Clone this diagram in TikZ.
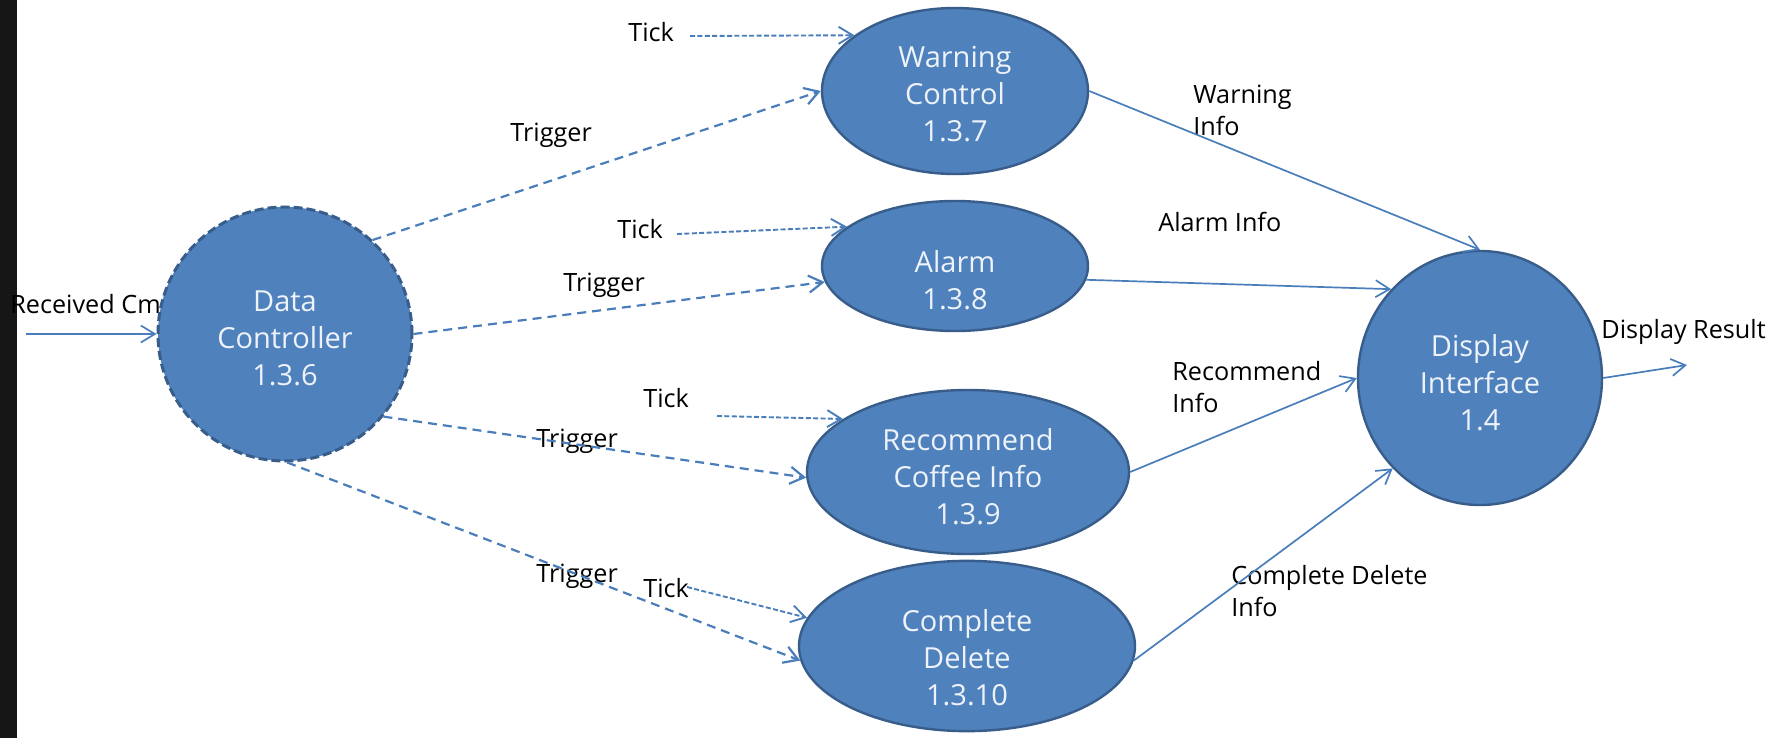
\documentclass[tikz,border=0pt]{standalone}
\usepackage{fontspec}
\setmainfont{Open Sans}
\usetikzlibrary{shapes.geometric,arrows.meta}
\definecolor{procblue}{HTML}{4F81BD}
\definecolor{procedge}{HTML}{385D8A}
\definecolor{flowblue}{HTML}{4A7EBB}
\definecolor{proctext}{HTML}{EEF3FA}
\definecolor{stripdark}{HTML}{161616}
\newcommand{\padtop}[1]{\rule{0pt}{\dimexpr 11pt+#1\relax}}
\begin{document}
\begin{tikzpicture}[x=0.5pt, y=-0.5pt,
    proc/.style={draw=procedge, line width=1.2pt, fill=procblue, text=proctext, align=center, inner sep=0pt, font=\fontsize{14.5}{18.5}\selectfont},
    flow/.style={draw=flowblue, line width=0.85pt, -{Straight Barb[length=7pt,width=8.5pt]}},
    trigflow/.style={flow, line width=1.1pt, dash pattern=on 4.5pt off 3pt},
    tickflow/.style={flow, line width=0.95pt, dash pattern=on 2.5pt off 1.2pt},
    lbl/.style={inner sep=0pt, align=left, font=\fontsize{12.6}{16}\selectfont}]
        % Page
        \useasboundingbox (0,0) rectangle (1774,738);
        \fill[white] (0,0) rectangle (1774,738);
        \fill[stripdark] (0,0) rectangle (17,738);

        % Flow labels
        \node[lbl, anchor=base west] (rcvlbl) at (10,313) {Received Cmd};
        \node[lbl, anchor=base west] (tick1) at (628,42) {Tick};
        \node[lbl, anchor=base west] (trig1) at (510,142) {Trigger};
        \node[lbl, anchor=base west] (tick2) at (617,239) {Tick};
        \node[lbl, anchor=base west] (trig2) at (563,292) {Trigger};
        \node[lbl, anchor=base west] (tick3) at (643,407) {Tick};
        \node[lbl, anchor=base west] (trig3) at (536,447) {Trigger};
        \node[lbl, anchor=base west] (trig4) at (536,582) {Trigger};
        \node[lbl, anchor=base west] (tick4) at (643,597) {Tick};
        \node[lbl, anchor=west] (winfo) at (1193,110) {Warning\\Info};
        \node[lbl, anchor=base west] (ainfo) at (1158,232) {Alarm Info};
        \node[lbl, anchor=west] (rinfo) at (1172,387) {Recommend\\Info};
        \node[lbl, anchor=west] (cinfo) at (1231,591) {Complete Delete\\Info};
        \node[lbl, anchor=base west] (dres) at (1601,338) {Display Result};

        % Processes
        \node[proc, circle, minimum size=127pt, line width=1.5pt, dash pattern=on 4.5pt off 2pt] (dc) at (285,334) {\padtop{4pt}Data\\Controller\\1.3.6};
        \node[proc, ellipse, minimum width=133pt, minimum height=83pt] (wc) at (955,91) {\padtop{3pt}Warning\\Control\\1.3.7};
        \node[proc, ellipse, minimum width=133pt, minimum height=65pt] (alarm) at (955,266) {\padtop{14pt}Alarm\\1.3.8};
        \node[proc, ellipse, minimum width=161pt, minimum height=82pt] (rci) at (968,472) {\padtop{4.5pt}Recommend\\Coffee Info\\1.3.9};
        \node[proc, ellipse, minimum width=168pt, minimum height=74pt] (cd) at (967,646) {\padtop{12pt}Complete\\Delete\\1.3.10};
        \node[proc, ellipse, minimum width=122pt, minimum height=127pt] (di) at (1480,378) {\padtop{4.5pt}Display\\Interface\\1.4};

        % Free ends
        \coordinate (rcvin) at (26,334);
        \coordinate (dout) at (1687,365);
        \coordinate (tick1s) at (690,36);
        \coordinate (tick2s) at (677,234);
        \coordinate (tick3s) at (717,416);
        \coordinate (tick4s) at (687,587);

        % Flows
        \draw[flow] (rcvin) -- (dc.west);
        \draw[trigflow] (dc.47) -- (wc.west);
        \draw[trigflow] (dc.east) -- (alarm.187);
        \draw[trigflow] (dc.-40) -- (rci.182);
        \draw[trigflow] (dc.-89) -- (cd.185);
        \draw[tickflow] (tick1s) -- (wc.151);
        \draw[tickflow] (tick2s) -- (alarm.160);
        \draw[tickflow] (tick3s) -- (rci.157);
        \draw[tickflow] (tick4s) -- (cd.170);
        \draw[flow] (wc.east) -- (di.north);
        \draw[flow] (alarm.-6) -- (di.135);
        \draw[flow] (rci.east) -- (di.west);
        \draw[flow] (cd.-5) -- (di.226);
        \draw[flow] (di.east) -- (dout);
\end{tikzpicture}
\end{document}
